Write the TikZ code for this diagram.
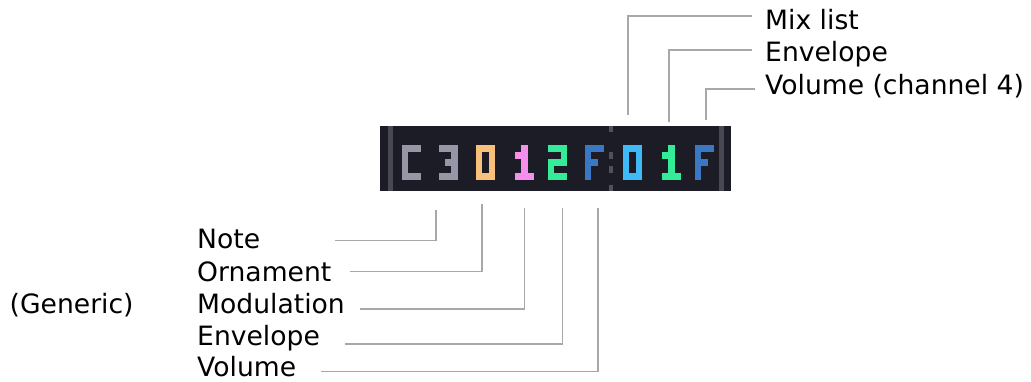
\documentclass[tikz,border=0pt]{standalone}
\usepackage{fontspec}
\setmainfont{DejaVu Sans}
\definecolor{linegray}{RGB}{168,168,168}
\definecolor{bardark}{RGB}{27,28,37}
\definecolor{sepgray}{RGB}{72,72,84}
\definecolor{dotgray}{RGB}{80,80,94}
\definecolor{notegray}{RGB}{150,150,166}
\definecolor{ornorange}{RGB}{248,192,122}
\definecolor{modpink}{RGB}{246,142,236}
\definecolor{envgreen}{RGB}{52,236,152}
\definecolor{volblue}{RGB}{58,120,196}
\definecolor{mixblue}{RGB}{62,186,246}
\newcommand{\pixglyph}[3]{\foreach \cc/\rr in {#3}{\fill[#2] ({#1+\cc*6.4},{-145-\rr*7}) rectangle ++(6.4,-7);}}
\tikzset{
  lbl/.style={anchor=base west, inner sep=0pt, font=\fontsize{26.6}{30}\selectfont, text=black},
  conn/.style={draw=linegray, line width=1.4pt, line join=miter}
}
\begin{document}
\begin{tikzpicture}[x=1pt,y=1pt]
\useasboundingbox (0,0) rectangle (1031,-381);
% pattern bar
\fill[bardark] (380,-126) rectangle (731,-191);
\fill[sepgray] (388,-126) rectangle (393,-191);
\fill[sepgray] (719,-126) rectangle (724,-191);
\fill[dotgray] (608.5,-126) rectangle (613,-132);
\fill[dotgray] (608.5,-152) rectangle (613,-159);
\fill[dotgray] (608.5,-166) rectangle (613,-173);
\fill[dotgray] (608.5,-185) rectangle (613,-191);
% glyphs
\pixglyph{402}{notegray}{0/0,1/0,2/0,0/1,0/2,0/3,0/4,1/4,2/4}
\pixglyph{438.5}{notegray}{0/0,1/0,2/0,2/1,1/2,2/2,2/3,0/4,1/4,2/4}
\pixglyph{476}{ornorange}{0/0,1/0,2/0,0/1,2/1,0/2,2/2,0/3,2/3,0/4,1/4,2/4}
\pixglyph{515}{modpink}{1/0,0/1,1/1,1/2,1/3,0/4,1/4,2/4}
\pixglyph{548}{envgreen}{0/0,1/0,2/0,2/1,0/2,1/2,2/2,0/3,0/4,1/4,2/4}
\pixglyph{585}{volblue}{0/0,1/0,2/0,0/1,0/2,1/2,0/3,0/4}
\pixglyph{623}{mixblue}{0/0,1/0,2/0,0/1,2/1,0/2,2/2,0/3,2/3,0/4,1/4,2/4}
\pixglyph{662}{envgreen}{1/0,0/1,1/1,1/2,1/3,0/4,1/4,2/4}
\pixglyph{695}{volblue}{0/0,1/0,2/0,0/1,0/2,1/2,0/3,0/4}
% labels top
\node[lbl] (lMix) at (765,-29) {Mix list};
\node[lbl] (lEnvT) at (765,-61.5) {Envelope};
\node[lbl] (lVolT) at (765,-94) {Volume (channel 4)};
% labels bottom
\node[lbl] (lNote) at (197,-248.5) {Note};
\node[lbl] (lOrn) at (197,-281) {Ornament};
\node[lbl] (lMod) at (197,-313) {Modulation};
\node[lbl] (lEnvB) at (197,-345) {Envelope};
\node[lbl] (lVolB) at (197,-376.5) {Volume};
\node[lbl] (lGen) at (9.5,-313) {(Generic)};
% connector end points
\coordinate (sMix) at (752,-16);    \coordinate (eMix) at (628,-115);
\coordinate (sEnvT) at (752,-50);   \coordinate (eEnvT) at (669,-121.5);
\coordinate (sVolT) at (755,-89);   \coordinate (eVolT) at (706,-120);
\coordinate (sNote) at (335,-240.7); \coordinate (eNote) at (436,-210);
\coordinate (sOrn) at (350,-271.7);  \coordinate (eOrn) at (482,-203.5);
\coordinate (sMod) at (360,-309);    \coordinate (eMod) at (524.5,-208);
\coordinate (sEnvB) at (345,-344);   \coordinate (eEnvB) at (562.5,-208);
\coordinate (sVolB) at (321,-371.7); \coordinate (eVolB) at (598,-208);
% connectors
\draw[conn] (sMix) -| (eMix);
\draw[conn] (sEnvT) -| (eEnvT);
\draw[conn] (sVolT) -| (eVolT);
\draw[conn] (sNote) -| (eNote);
\draw[conn] (sOrn) -| (eOrn);
\draw[conn] (sMod) -| (eMod);
\draw[conn] (sEnvB) -| (eEnvB);
\draw[conn] (sVolB) -| (eVolB);
\end{tikzpicture}
\end{document}
